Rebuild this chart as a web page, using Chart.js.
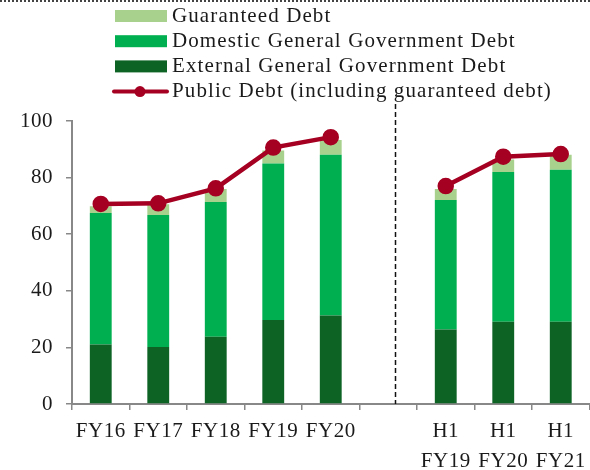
<!DOCTYPE html>
<html lang="en">

<head>
    <meta charset="UTF-8">
    <title>Public Debt</title>
    <style>
        html, body { margin: 0; padding: 0; overflow: hidden; background: #fff; }
        #wrap { width: 600px; height: 470px; }
    </style>
</head>

<body>
    <div id="wrap">
        <canvas id="myChart"></canvas>
    </div>

    <script src="https://cdn.jsdelivr.net/npm/chart.js"></script>

    <script>
        // datos (% del PIB)
        const categories = ['FY16', 'FY17', 'FY18', 'FY19', 'FY20', '', ['H1', 'FY19'], ['H1', 'FY20'], ['H1', 'FY21']]
        const external = [21.0, 20.1, 23.8, 29.7, 31.3, null, 26.3, 29.1, 29.1]
        const domestic = [46.5, 46.7, 47.6, 55.3, 56.8, null, 45.8, 52.9, 53.7]
        const guaranteed = [2.4, 3.8, 4.6, 4.6, 5.2, null, 3.9, 4.4, 5.3]
        const publicDebt = [70.7, 70.9, 76.2, 90.6, 94.3, null, 77.0, 87.4, 88.3]
        const yTicks = [0, 20, 40, 60, 80, 100]

        const serif = "'Liberation Serif', 'Times New Roman', serif"
        const textColor = '#1a1a1a'
        const axisColor = '#888888'

        // leyenda vertical + linea divisoria + borde punteado
        const extras = {
            id: 'extras',
            beforeDraw(chart) {
                chart.ctx.letterSpacing = '0.5px'
            },
            afterDraw(chart) {
                const ctx = chart.ctx
                const x = chart.scales.x
                const area = chart.chartArea
                ctx.save()

                // borde superior punteado
                ctx.strokeStyle = '#444'
                ctx.lineWidth = 2
                ctx.setLineDash([2, 2])
                ctx.beginPath()
                ctx.moveTo(0, 1)
                ctx.lineTo(chart.width, 1)
                ctx.stroke()

                // separador entre años fiscales y semestres
                const xd = Math.round(x.getPixelForValue(5.12)) + 0.5
                ctx.strokeStyle = '#111'
                ctx.lineWidth = 1.5
                ctx.setLineDash([5, 3])
                ctx.beginPath()
                ctx.moveTo(xd, 104)
                ctx.lineTo(xd, area.bottom)
                ctx.stroke()
                ctx.setLineDash([])

                // leyenda: garantizada, domestica, externa, linea
                const order = [3, 2, 1, 0]
                ctx.font = '21px ' + serif
                ctx.letterSpacing = '1.1px'
                ctx.textBaseline = 'middle'
                ctx.fillStyle = textColor
                order.forEach((idx, i) => {
                    const ds = chart.data.datasets[idx]
                    const cy = 16 + i * 25.2
                    if (ds.type === 'line') {
                        ctx.strokeStyle = ds.borderColor
                        ctx.lineWidth = 4
                        ctx.lineCap = 'round'
                        ctx.beginPath()
                        ctx.moveTo(114, cy)
                        ctx.lineTo(167, cy)
                        ctx.stroke()
                        ctx.fillStyle = ds.borderColor
                        ctx.beginPath()
                        ctx.arc(140, cy, 5.5, 0, Math.PI * 2)
                        ctx.fill()
                    } else {
                        ctx.fillStyle = ds.backgroundColor
                        ctx.fillRect(115, cy - 6, 52, 12)
                    }
                    ctx.fillStyle = textColor
                    ctx.fillText(ds.label, 172, cy)
                })
                ctx.restore()
                ctx.letterSpacing = '0px'
            }
        }

        const ctx = document.getElementById('myChart')

        new Chart(ctx, {
            data: {
                labels: categories,
                datasets: [
                    {
                        type: 'line',
                        label: 'Public Debt (including guaranteed debt)',
                        data: publicDebt,
                        borderColor: '#a50021',
                        backgroundColor: '#a50021',
                        borderWidth: 4.5,
                        pointRadius: 6,
                        pointHoverRadius: 6,
                        spanGaps: false,
                        order: 0
                    },
                    {
                        type: 'bar',
                        label: 'External General Government Debt',
                        data: external,
                        backgroundColor: '#0c6324',
                        order: 1
                    },
                    {
                        type: 'bar',
                        label: 'Domestic General Government Debt',
                        data: domestic,
                        backgroundColor: '#00b050',
                        order: 1
                    },
                    {
                        type: 'bar',
                        label: 'Guaranteed Debt',
                        data: guaranteed,
                        backgroundColor: '#a9d18e',
                        order: 1
                    }
                ]
            },
            options: {
                responsive: true,
                maintainAspectRatio: false,
                animation: false,
                layout: { padding: { top: 121, right: 5, left: 0, bottom: 0 } },
                datasets: {
                    bar: { barPercentage: 0.38, categoryPercentage: 1 }
                },
                plugins: {
                    legend: { display: false },
                    tooltip: { enabled: false }
                },
                scales: {
                    x: {
                        stacked: true,
                        offset: true,
                        afterFit: s => { s.height = 66 },
                        grid: {
                            offset: true,
                            drawOnChartArea: false,
                            tickLength: 6,
                            color: axisColor,
                            lineWidth: 1.5
                        },
                        border: { color: axisColor, width: 2 },
                        ticks: {
                            color: textColor,
                            padding: 6,
                            maxRotation: 0,
                            autoSkip: false,
                            font: { family: serif, size: 21, lineHeight: 1.43 }
                        }
                    },
                    y: {
                        stacked: true,
                        min: 0,
                        max: 100,
                        afterFit: s => { s.width = 72 },
                        afterBuildTicks: s => { s.ticks = yTicks.map(v => ({ value: v })) },
                        grid: {
                            drawOnChartArea: false,
                            tickLength: 6,
                            color: axisColor,
                            lineWidth: 1.5
                        },
                        border: { color: axisColor, width: 2 },
                        ticks: {
                            color: textColor,
                            padding: 13,
                            font: { family: serif, size: 21 }
                        }
                    }
                }
            },
            plugins: [extras]
        })
    </script>

</body>

</html>
